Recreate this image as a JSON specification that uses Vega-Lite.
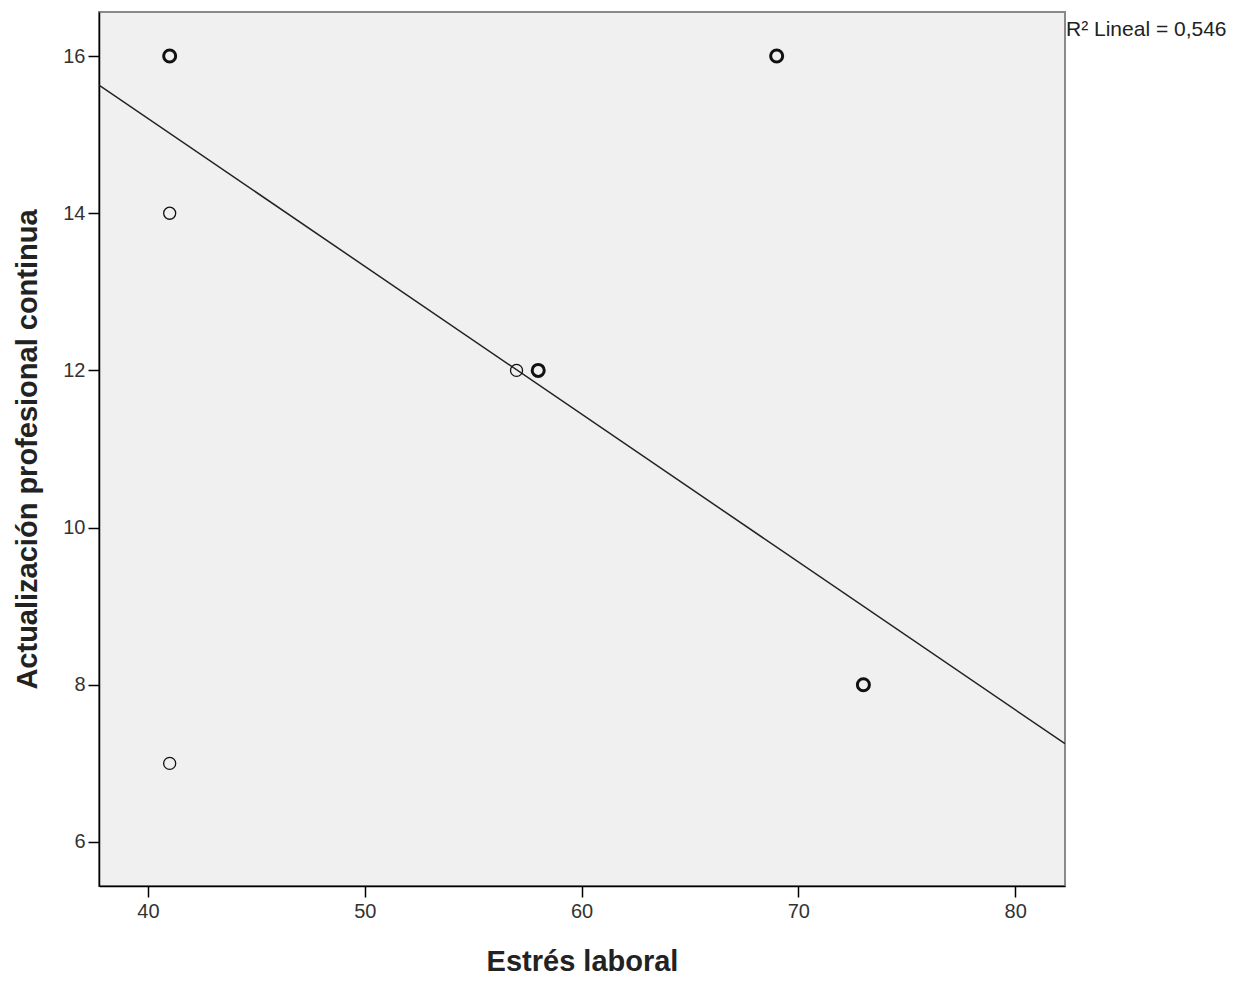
{
  "$schema": "https://vega.github.io/schema/vega-lite/v6.json",
  "width": 966,
  "height": 874,
  "autosize": {"type": "none"},
  "padding": {"left": 99, "top": 12, "right": 188, "bottom": 95},
  "background": "white",
  "config": {
    "font": "Liberation Sans",
    "view": {"fill": "#f0f0f0", "stroke": "#8a8a8a", "strokeWidth": 2},
    "axis": {
      "domainColor": "#000000",
      "domainWidth": 1.5,
      "tickColor": "#000000",
      "tickWidth": 1.5,
      "tickSize": 11,
      "grid": false,
      "labelFont": "Liberation Sans",
      "labelFontSize": 20,
      "labelColor": "#333333",
      "titleFont": "Liberation Sans",
      "titleFontSize": 29,
      "titleFontWeight": "bold",
      "titleColor": "#222222"
    }
  },
  "datasets": {
    "points": [
      {"estres": 41, "actual": 16, "n": 3},
      {"estres": 41, "actual": 14, "n": 1},
      {"estres": 41, "actual": 7, "n": 1},
      {"estres": 57, "actual": 12, "n": 1},
      {"estres": 58, "actual": 12, "n": 3},
      {"estres": 69, "actual": 16, "n": 2},
      {"estres": 73, "actual": 8, "n": 3}
    ],
    "fit": [
      {"estres": 37.74, "actual": 15.63},
      {"estres": 82.3, "actual": 7.25}
    ],
    "label": [
      {"estres": 82.3, "actual": 16.33, "txt": "R² Lineal = 0,546"}
    ]
  },
  "layer": [
    {
      "data": {"name": "fit"},
      "mark": {"type": "line", "color": "#222222", "strokeWidth": 1.5, "clip": true},
      "encoding": {
        "x": {
          "field": "estres", "type": "quantitative",
          "scale": {"domain": [37.74, 82.3], "nice": false, "zero": false},
          "axis": {"values": [40, 50, 60, 70, 80], "format": "d", "title": "Estrés laboral", "titlePadding": 26, "labelPadding": 4}
        },
        "y": {
          "field": "actual", "type": "quantitative",
          "scale": {"domain": [5.44, 16.56], "nice": false, "zero": false},
          "axis": {"values": [6, 8, 10, 12, 14, 16], "format": "d", "title": "Actualización profesional continua", "titlePadding": 20, "labelPadding": 3}
        }
      }
    },
    {
      "data": {"name": "points"},
      "mark": {"type": "point", "shape": "circle", "filled": false, "color": "#111111", "size": 145, "opacity": 1},
      "encoding": {
        "x": {"field": "estres", "type": "quantitative"},
        "y": {"field": "actual", "type": "quantitative"},
        "strokeWidth": {
          "field": "n", "type": "quantitative",
          "scale": {"domain": [1, 2], "range": [1.3, 3], "clamp": true},
          "legend": null
        }
      }
    },
    {
      "data": {"name": "label"},
      "mark": {"type": "text", "align": "left", "baseline": "middle", "dx": 1, "fontSize": 21, "color": "#222222", "font": "Liberation Sans", "clip": false},
      "encoding": {
        "x": {"field": "estres", "type": "quantitative"},
        "y": {"field": "actual", "type": "quantitative"},
        "text": {"field": "txt"}
      }
    }
  ]
}
